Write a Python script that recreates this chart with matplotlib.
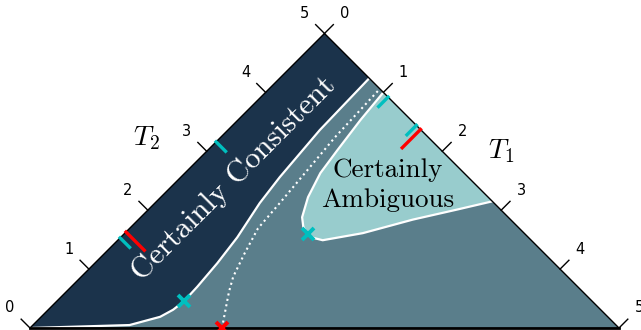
import matplotlib
matplotlib.use("Agg")
import matplotlib.pyplot as plt
from matplotlib.transforms import Affine2D

plt.rcParams["mathtext.fontset"] = "cm"

# boundary of the "certainly consistent" region, (T1, T2)
consistent_t2 = [0.0, 0.35, 0.87, 1.20, 1.37, 1.53, 1.77, 2.14, 2.53, 3.01, 3.40, 4.14, 5.0]
consistent_t1 = [0.0, 0.33, 0.82, 1.01, 1.06, 1.08, 1.07, 1.04, 0.99, 0.89, 0.84, 0.78, 0.76]

# boundary of the "certainly ambiguous" region
ambiguous_t1 = [1.00, 1.04, 1.10, 1.15, 1.25, 1.37, 1.46, 1.55, 1.64, 1.74, 2.02, 2.33, 2.62, 2.85]
ambiguous_t2 = [5.0, 4.57, 4.12, 3.78, 3.47, 3.25, 3.18, 3.15, 3.17, 3.23, 3.63, 4.17, 4.63, 5.0]

# dotted curve
dotted_t2 = [1.63, 1.91, 2.00, 2.16, 2.45, 2.78, 3.18, 4.21, 5.0]
dotted_t1 = [1.63, 1.44, 1.38, 1.29, 1.19, 1.09, 1.06, 0.97, 0.94]

# marked points
cyan_t1 = [1.08, 1.56]
cyan_t2 = [1.53, 3.16]
red_t1 = [1.63]
red_t2 = [1.63]

ticks = [0, 1, 2, 3, 4, 5]

navy = "#1b334b"
slate = "#5a7e8b"
light = "#98cccd"

fig = plt.figure(figsize=(6.41, 3.30), dpi=100)
ax = fig.add_axes([0, 0, 1, 1])
ax.set_xlim(-0.2547, 5.187)
ax.set_ylim(-0.017, 2.784)
ax.axis("off")

# (T1, T2) -> plane, right angle at the top
tri = Affine2D.from_values(0.5, -0.5, 0.5, 0.5, 0, 0) + ax.transData

ax.fill([0, 0, 5], [0, 5, 5], color=slate, lw=0, transform=tri, zorder=1)
ax.fill([0, 0] + consistent_t1[::-1], [0, 5] + consistent_t2[::-1], color=navy, lw=0,
        transform=tri, zorder=2)
ax.fill(ambiguous_t1, ambiguous_t2, color=light, lw=0, transform=tri, zorder=2)

ax.plot(consistent_t1, consistent_t2, color="white", lw=1.6, transform=tri, zorder=3)
ax.plot(ambiguous_t1, ambiguous_t2, color="white", lw=1.6, transform=tri, zorder=3)
ax.plot(dotted_t1, dotted_t2, color="white", lw=1.5, ls=":", transform=tri, zorder=3)

# triangle edges
ax.plot([0, 0, 5], [0, 5, 5], color="black", lw=1.0, transform=tri, zorder=4)
ax.plot([0, 5], [0, 5], color="black", lw=2.0, transform=tri, zorder=4)

# edge ticks and labels
for k in ticks:
    ax.plot([0, -0.15], [k, k], color="black", lw=1.0, transform=tri, zorder=4)
    ax.plot([k, k], [5, 5.15], color="black", lw=1.0, transform=tri, zorder=4)
    ax.text(-0.34, k, str(k), transform=tri, ha="center", va="center", fontsize=10.5)
    ax.text(k, 5.34, str(k), transform=tri, ha="center", va="center", fontsize=10.5)

# projections of the marked points on the two edges
for t1, t2 in zip(cyan_t1, cyan_t2):
    ax.plot([0, 0.16], [t2, t2], color="c", lw=2.4, transform=tri, zorder=5)
    ax.plot([t1, t1], [5, 4.84], color="c", lw=2.4, transform=tri, zorder=5)
for t1, t2 in zip(red_t1, red_t2):
    ax.plot([0, 0.31], [t2, t2], color="r", lw=2.4, transform=tri, zorder=5)
    ax.plot([t1, t1], [5, 4.69], color="r", lw=2.4, transform=tri, zorder=5)

ax.plot(cyan_t1, cyan_t2, "x", color="c", ms=8.5, mew=2.8, transform=tri, zorder=6)
ax.plot(red_t1, red_t2, "x", color="r", ms=8.5, mew=2.8, transform=tri, zorder=6,
        clip_on=False)

ax.text(-0.62, 2.6, r"$T_2$", transform=tri, ha="center", va="center", fontsize=20)
ax.text(2.5, 5.5, r"$T_1$", transform=tri, ha="center", va="center", fontsize=20)

ax.text(0.47, 3.0, "Certainly Consistent", transform=tri, ha="center", va="center",
        rotation=45, rotation_mode="anchor", fontsize=22, family="cmr10",
        color="white", zorder=7)
ax.text(1.825, 4.25, "Certainly\nAmbiguous", transform=tri, ha="center", va="center",
        fontsize=19.5, family="cmr10", color="black", linespacing=1.35, zorder=7)

fig.savefig("out.png", dpi=100)
